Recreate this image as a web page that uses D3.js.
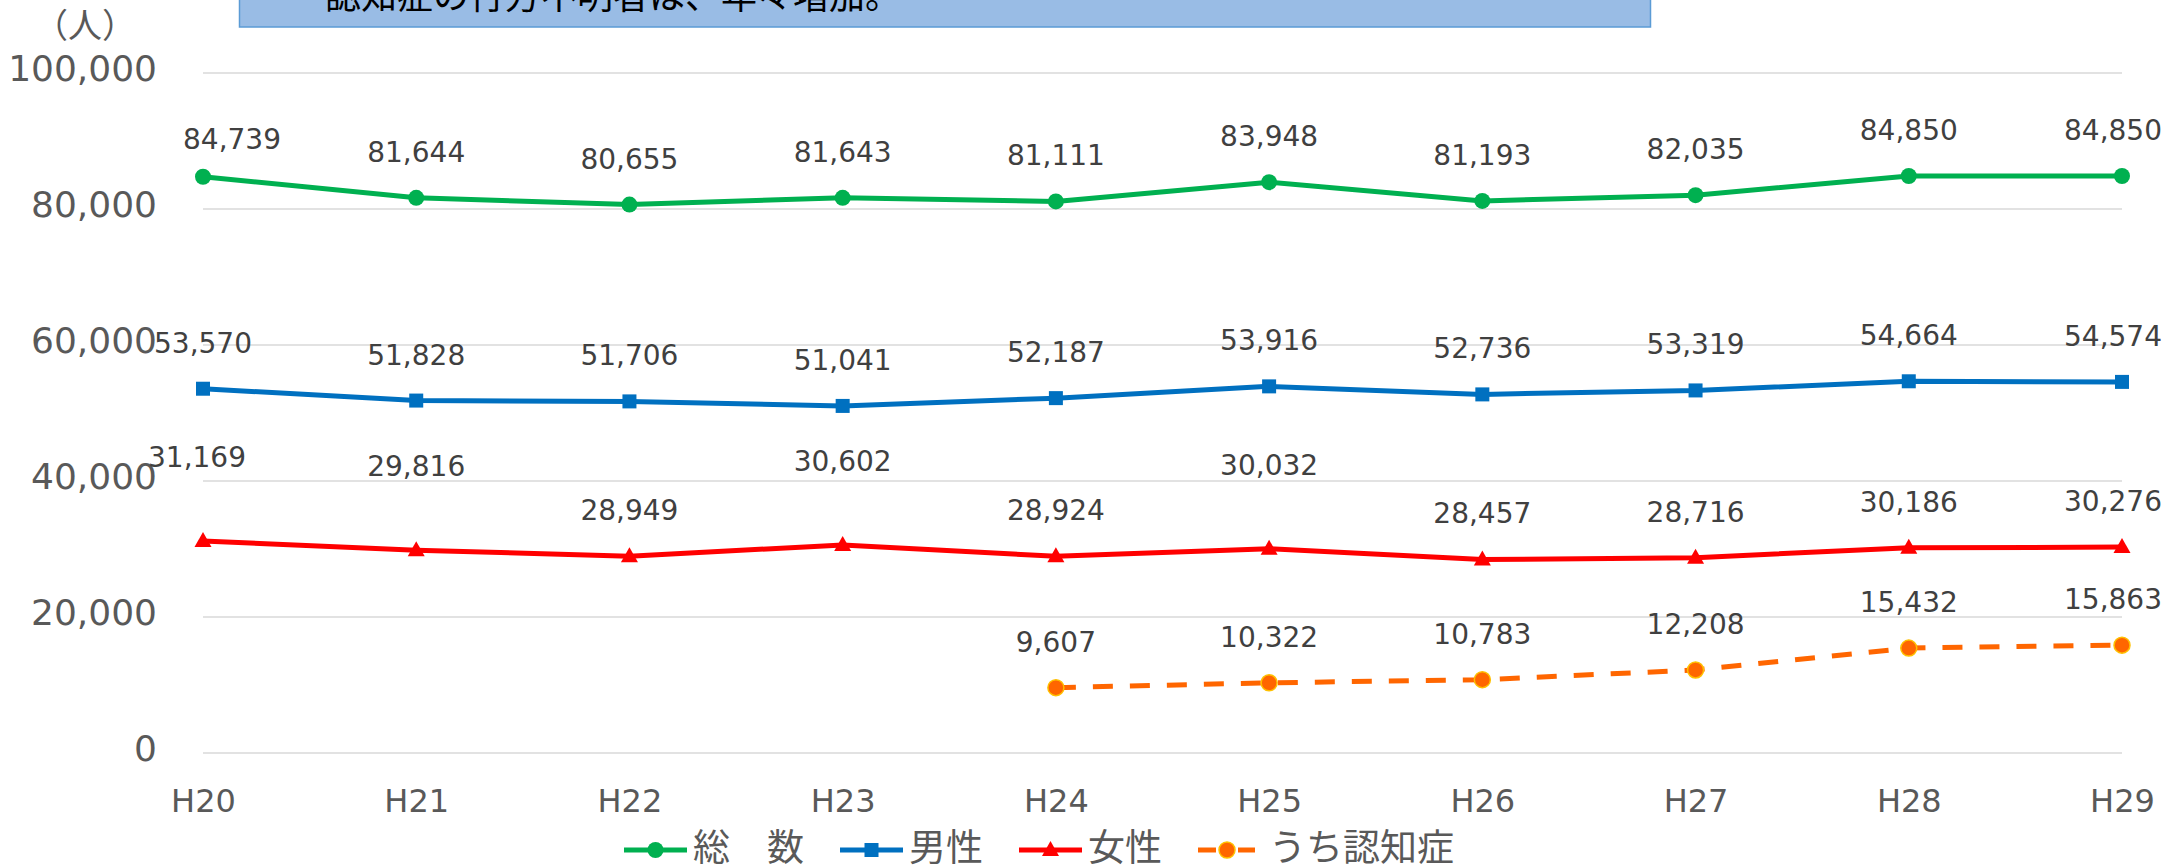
<!DOCTYPE html>
<html>
<head>
<meta charset="utf-8">
<script src="https://cdn.jsdelivr.net/npm/d3@7"></script>
<style>
  html, body { margin: 0; padding: 0; background: #fff; }
  svg { display: block; }
</style>
</head>
<body>
<div id="chart"></div>
<script>
// ---- data ----
const categories = ["H20", "H21", "H22", "H23", "H24", "H25", "H26", "H27", "H28", "H29"];
const totalValues = [84739, 81644, 80655, 81643, 81111, 83948, 81193, 82035, 84850, 84850];
const maleValues = [53570, 51828, 51706, 51041, 52187, 53916, 52736, 53319, 54664, 54574];
const femaleValues = [31169, 29816, 28949, 30602, 28924, 30032, 28457, 28716, 30186, 30276];
const dementiaValues = [null, null, null, null, 9607, 10322, 10783, 12208, 15432, 15863];
const yTicks = [0, 20000, 40000, 60000, 80000, 100000];
const seriesNames = ["総　数", "男性", "女性", "うち認知症"];
const titleText = "認知症の行方不明者は、年々増加。";
const unitText = "（人）";

// ---- layout / style ----
const W = 2166, H = 865;
const plot = { left: 203, right: 2122, top: 73, bottom: 753 };
// extra upward shift (px) of some female labels, as placed in the original
const femaleLabelRaise = [38, 38, 0, 38, 0, 38, 0, 0, 0, 0];

const series = [
  { name: seriesNames[0], values: totalValues, color: "#00B050", marker: "circle", dash: null, firstShift: [29, 8] },
  { name: seriesNames[1], values: maleValues, color: "#0070C0", marker: "square", dash: null, firstShift: [0, 0] },
  { name: seriesNames[2], values: femaleValues, color: "#FF0000", marker: "triangle", dash: null, raise: femaleLabelRaise, firstShift: [-6, 0] },
  { name: seriesNames[3], values: dementiaValues, color: "#FF6600", marker: "circleO", dash: "20,17", firstShift: [0, 0] }
];

const svg = d3.select("#chart").append("svg").attr("width", W).attr("height", H);

const x = d3.scalePoint().domain(categories).range([plot.left, plot.right]);
const y = d3.scaleLinear().domain([0, 100000]).range([plot.bottom, plot.top]);

// gridlines
svg.append("g").selectAll("line").data(yTicks).join("line")
  .attr("x1", plot.left).attr("x2", plot.right)
  .attr("y1", d => y(d)).attr("y2", d => y(d))
  .attr("stroke", "#D9D9D9").attr("stroke-width", 1.5);

// y axis labels
const yAxis = d3.axisLeft(y).tickValues(yTicks).tickFormat(d3.format(",")).tickSize(0).tickPadding(0);
const yg = svg.append("g").attr("transform", `translate(157,0)`).call(yAxis);
yg.select(".domain").remove();
yg.selectAll("text")
  .attr("font-family", "'DejaVu Sans', sans-serif").attr("font-size", 36)
  .attr("fill", "#595959").attr("dy", null).attr("dominant-baseline", "alphabetic")
  .attr("y", 7);

// x axis labels
const xAxis = d3.axisBottom(x).tickSize(0).tickPadding(0);
const xg = svg.append("g").attr("transform", `translate(0,${plot.bottom})`).call(xAxis);
xg.select(".domain").remove();
xg.selectAll("text")
  .attr("font-family", "'DejaVu Sans', sans-serif").attr("font-size", 32)
  .attr("fill", "#595959").attr("dy", null).attr("y", 59);

// unit label
svg.append("text").attr("x", 85).attr("y", 38).attr("text-anchor", "middle")
  .attr("font-family", "'Noto Sans CJK JP', sans-serif").attr("font-size", 34)
  .attr("fill", "#595959").text(unitText);

// title box (partly cut off at top)
svg.append("rect").attr("x", 239.5).attr("y", -60).attr("width", 1411).attr("height", 87)
  .attr("fill", "#99BCE5").attr("stroke", "#5B9BD5").attr("stroke-width", 1.5);
svg.append("text").attr("x", 325).attr("y", 9)
  .attr("font-family", "'Noto Sans CJK JP', sans-serif").attr("font-size", 36)
  .attr("fill", "#000").text(titleText);

function drawMarker(g, type, color, cx, cy) {
  if (type === "circle") {
    g.append("circle").attr("cx", cx).attr("cy", cy).attr("r", 8).attr("fill", color);
  } else if (type === "square") {
    g.append("rect").attr("x", cx - 7).attr("y", cy - 7).attr("width", 14).attr("height", 14).attr("fill", color);
  } else if (type === "triangle") {
    g.append("path").attr("d", `M${cx},${cy - 9}L${cx + 8.5},${cy + 6}L${cx - 8.5},${cy + 6}Z`).attr("fill", color);
  } else if (type === "circleO") {
    g.append("circle").attr("cx", cx).attr("cy", cy).attr("r", 8).attr("fill", color)
      .attr("stroke", "#FFC000").attr("stroke-width", 1.5);
  }
}

const fmt = d3.format(",");
const line = d3.line().defined(d => d.v != null).x(d => x(d.c)).y(d => y(d.v));

series.forEach(s => {
  const pts = categories.map((c, i) => ({ c, v: s.values[i], i }));
  const g = svg.append("g");
  g.append("path").datum(pts).attr("d", line)
    .attr("fill", "none").attr("stroke", s.color).attr("stroke-width", 5)
    .attr("stroke-linejoin", "round")
    .attr("stroke-dasharray", s.dash);
  pts.filter(d => d.v != null).forEach(d => drawMarker(g, s.marker, s.color, x(d.c), y(d.v)));
  // data labels
  pts.filter(d => d.v != null).forEach(d => {
    const shift = d.i === 0 ? s.firstShift : [0, 0];
    const t = g.append("text")
      .attr("y", y(d.v) - 36 - (s.raise ? s.raise[d.i] : 0) + shift[1])
      .attr("text-anchor", "middle")
      .attr("font-family", "'DejaVu Sans', sans-serif").attr("font-size", 28)
      .attr("fill", "#404040").text(fmt(d.v));
    let cx = x(d.c) + shift[0];
    t.attr("x", cx);
    const bb = t.node().getBBox();
    if (bb.x + bb.width > W - 4) cx -= (bb.x + bb.width - (W - 4));
    t.attr("x", cx);
  });
});

// legend
const legY = 850;
let lx = 624;
series.forEach(s => {
  const g = svg.append("g");
  let gap = 6;
  if (s.dash) {
    g.append("line").attr("x1", lx).attr("x2", lx + 18).attr("y1", legY).attr("y2", legY)
      .attr("stroke", s.color).attr("stroke-width", 5);
    g.append("line").attr("x1", lx + 40).attr("x2", lx + 57).attr("y1", legY).attr("y2", legY)
      .attr("stroke", s.color).attr("stroke-width", 5);
    drawMarker(g, s.marker, s.color, lx + 29, legY);
    lx += 57;
    gap = 14;
  } else {
    g.append("line").attr("x1", lx).attr("x2", lx + 63).attr("y1", legY).attr("y2", legY)
      .attr("stroke", s.color).attr("stroke-width", 5);
    drawMarker(g, s.marker, s.color, lx + 31.5, legY);
    lx += 63;
  }
  const t = g.append("text").attr("x", lx + gap).attr("y", legY + 11)
    .attr("font-family", "'Noto Sans CJK JP', sans-serif").attr("font-size", 37)
    .attr("fill", "#595959").text(s.name);
  lx += gap + t.node().getComputedTextLength() + 36;
});
</script>
</body>
</html>
